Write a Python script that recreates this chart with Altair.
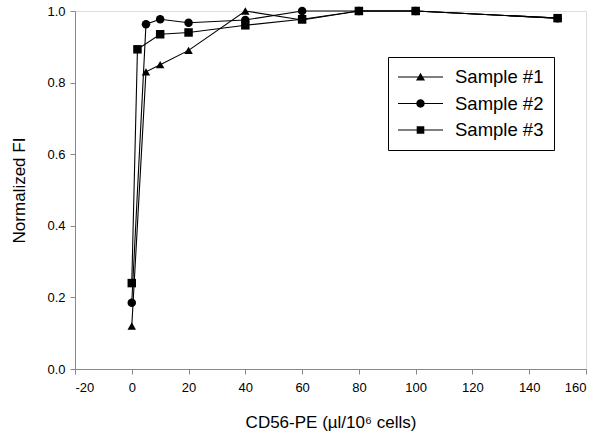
import altair as alt
import pandas as pd

samples = ["Sample #1", "Sample #2", "Sample #3"]
s1_x = [0, 5, 10, 20, 40, 60, 80, 100, 150]
s1_y = [0.12, 0.83, 0.85, 0.89, 1.0, 0.975, 1.0, 1.0, 0.98]
s2_x = [0, 5, 10, 20, 40, 60, 80, 100, 150]
s2_y = [0.185, 0.963, 0.977, 0.967, 0.975, 1.0, 1.0, 1.0, 0.98]
s3_x = [0, 2, 10, 20, 40, 60, 80, 100, 150]
s3_y = [0.24, 0.893, 0.935, 0.94, 0.96, 0.977, 1.0, 1.0, 0.98]

x_ticks = [-20, 0, 20, 40, 60, 80, 100, 120, 140, 160]
y_ticks = [0.0, 0.2, 0.4, 0.6, 0.8, 1.0]

rows = []
for name, xs, ys in zip(samples, [s1_x, s2_x, s3_x], [s1_y, s2_y, s3_y]):
    for x, y in zip(xs, ys):
        rows.append({"sample": name, "dose": x, "fi": y})
df = pd.DataFrame(rows)

FONT = "Liberation Sans"

x_enc = alt.X(
    "dose:Q",
    scale=alt.Scale(domain=[-20, 160], nice=False),
    axis=alt.Axis(
        values=x_ticks, grid=False, title="CD56-PE (µl/10⁶ cells)",
        labelExpr="'' + datum.value",
        titleFontSize=17, titleFontWeight="normal", titlePadding=20,
        labelFontSize=13, labelPadding=7, tickSize=5,
    ),
)
y_enc = alt.Y(
    "fi:Q",
    scale=alt.Scale(domain=[0, 1], nice=False),
    axis=alt.Axis(
        values=y_ticks, format=".1f", grid=False, title="Normalized FI",
        titleFontSize=17, titleFontWeight="normal", titlePadding=18,
        labelFontSize=13, labelPadding=5, tickSize=5,
    ),
)

lines = alt.Chart(df).mark_line(color="black", strokeWidth=1.1).encode(
    x=x_enc, y=y_enc, detail="sample:N"
)

points = alt.Chart(df).mark_point(filled=True, color="black", opacity=1, size=72).encode(
    x=x_enc, y=y_enc,
    shape=alt.Shape(
        "sample:N",
        scale=alt.Scale(domain=samples, range=["triangle-up", "circle", "square"]),
        legend=None,
    ),
)

# legend glyphs: a horizontal line with the marker in its middle (units of r = 10 px)
line_part = "M-1,-0.055H3.5V0.055H-1Z"
legend_paths = [
    line_part + "M1.25,-0.42L1.7,0.36L0.8,0.36Z",
    line_part + "M0.83,0A0.42,0.42,0,1,1,1.67,0A0.42,0.42,0,1,1,0.83,0Z",
    line_part + "M0.87,-0.38H1.63V0.38H0.87Z",
]

legend_layer = alt.Chart(df).mark_point(filled=True, color="black", opacity=0, size=1).encode(
    x=x_enc, y=y_enc,
    shape=alt.Shape(
        "sample:N",
        scale=alt.Scale(domain=samples, range=legend_paths),
        legend=alt.Legend(
            title=None, orient="none", legendX=313, legendY=46,
            strokeColor="black", fillColor="white", padding=10,
            labelFontSize=18.5, labelFont=FONT, labelOffset=37,
            symbolSize=400, symbolFillColor="black", symbolStrokeWidth=0,
            symbolOpacity=1, rowPadding=6.5,
        ),
    ),
)

chart = (
    alt.layer(lines, points, legend_layer)
    .resolve_scale(shape="independent")
    .resolve_legend(shape="independent")
    .properties(
        width=511, height=358,
        autosize=alt.AutoSizeParams(type="none"),
        padding={"left": 75, "top": 11, "right": 13, "bottom": 75},
    )
    .configure_view(stroke="black", strokeWidth=1)
    .configure_axis(
        domainColor="black", tickColor="black", labelColor="black", titleColor="black",
        labelFont=FONT, titleFont=FONT, domainWidth=1, tickWidth=1,
    )
    .configure(background="white")
)

chart.save("out.html", embed_options={"renderer": "svg", "actions": False})
